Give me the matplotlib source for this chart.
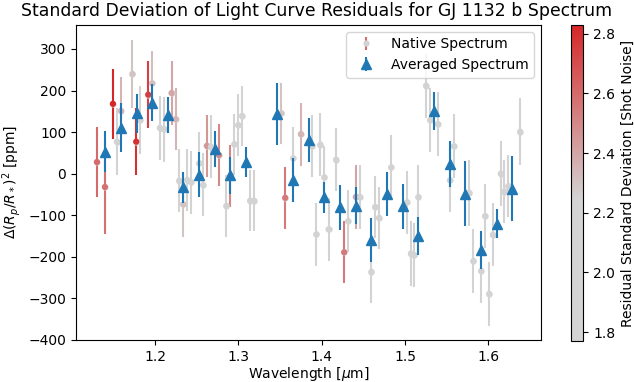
import numpy as np
import matplotlib
matplotlib.use("Agg")
import matplotlib.pyplot as plt
from matplotlib.colors import LinearSegmentedColormap, Normalize

# native-resolution spectrum (wavelength in um, depth change in ppm)
native_wl = [1.1300, 1.1396, 1.1492, 1.1540, 1.1588, 1.1727, 1.1772, 1.1820,
             1.1916, 1.1964, 1.2056, 1.2104, 1.2196, 1.2244, 1.2288, 1.2336,
             1.2384, 1.2432, 1.2528, 1.2576, 1.2620, 1.2669, 1.2765, 1.2856,
             1.2904, 1.2952, 1.2996, 1.3044, 1.3140, 1.3188, 1.3516, 1.3561,
             1.3657, 1.3749, 1.3888, 1.3936, 1.3984, 1.4032, 1.4081, 1.4173,
             1.4269, 1.4317, 1.4409, 1.4457, 1.4597, 1.4641, 1.4689, 1.4833,
             1.5022, 1.5070, 1.5113, 1.5161, 1.5253, 1.5301, 1.5394, 1.5538,
             1.5586, 1.5773, 1.5821, 1.5914, 1.5962, 1.6010, 1.6054, 1.6150,
             1.6193, 1.6241, 1.6382]
native_depth = [28, -32, 168, 77, 151, 240, 77, 129,
                190, 217, 110, 107, 194, 131, -17, -74,
                -15, -21, 25, -27, 67, 65, 45, -77,
                -5, 71, 117, 139, -65, -65, 145, -58,
                37, 95, 67, -146, 70, -9, -134, 34,
                -189, -114, -56, -56, -236, -80, -106, 15,
                -69, -192, -196, -56, 212, 129, 119, -16,
                66, -46, -210, -234, -102, -289, -147, 0,
                -43, -30, 101]
native_err = [84, 112, 84, 81, 82, 81, 81, 81,
              80, 79, 78, 78, 78, 75, 76, 78,
              75, 75, 75, 76, 75, 75, 75, 75,
              74, 73, 74, 73, 73, 73, 74, 74,
              75, 76, 75, 76, 76, 75, 75, 76,
              75, 75, 77, 77, 74, 75, 75, 77,
              76, 78, 77, 77, 77, 77, 77, 77,
              77, 79, 76, 77, 76, 77, 76, 78,
              75, 75, 80]
native_std = [2.60, 2.58, 2.83, 1.90, 2.35, 2.30, 2.80, 1.95,
              2.75, 2.32, 1.90, 1.88, 2.40, 2.35, 1.85, 2.30,
              1.85, 1.86, 1.88, 1.87, 2.45, 1.90, 2.50, 1.86,
              2.50, 1.88, 2.05, 2.15, 1.85, 1.86, 2.30, 2.55,
              1.88, 2.35, 1.90, 1.85, 1.90, 1.88, 1.86, 1.90,
              2.55, 1.88, 2.40, 1.90, 1.85, 1.86, 1.88, 1.90,
              1.87, 1.85, 1.86, 1.88, 1.90, 1.88, 1.87, 1.86,
              1.85, 1.87, 1.86, 1.85, 1.88, 1.77, 1.86, 1.88,
              1.87, 1.86, 1.90]

# binned spectrum
avg_wl = [1.1396, 1.1588, 1.1776, 1.1964, 1.2152, 1.2336, 1.2528, 1.2717,
          1.2904, 1.3092, 1.3468, 1.3657, 1.3845, 1.4032, 1.4221, 1.4409,
          1.4597, 1.4785, 1.4973, 1.5161, 1.5349, 1.5538, 1.5725, 1.5914,
          1.6102, 1.6289]
avg_depth = [53, 111, 145, 171, 141, -33, -2, 59,
             -4, 28, 143, -15, 81, -57, -81, -77,
             -160, -49, -78, -150, 151, 23, -48, -184,
             -120, -36]
avg_err = [50, 58, 46, 45, 44, 38, 54, 43,
           44, 36, 75, 53, 54, 38, 54, 45,
           53, 54, 54, 45, 45, 55, 79, 45,
           35, 79]

cmap = LinearSegmentedColormap.from_list(
    "greyred", [(0.0, "lightgrey"), (0.45, "lightgrey"), (1.0, "tab:red")])
norm = Normalize(vmin=min(native_std), vmax=max(native_std))
ecolors = cmap(norm(np.array(native_std)))

fig = plt.figure(figsize=(6.34, 3.82), dpi=100)
ax = fig.add_axes([0.12, 0.11, 0.733, 0.825])
cax = fig.add_axes([0.9, 0.107, 0.02, 0.828])

ax.errorbar(native_wl, native_depth, yerr=native_err, fmt="o", ms=3.5,
            color="lightgrey", ecolor=ecolors, elinewidth=1.5,
            label="Native Spectrum", zorder=2)
sc = ax.scatter(native_wl, native_depth, c=native_std, cmap=cmap, norm=norm,
                s=12, zorder=3)
ax.errorbar(avg_wl, avg_depth, yerr=avg_err, fmt="^", ms=7, color="tab:blue",
            elinewidth=1.5, label="Averaged Spectrum", zorder=4)

ax.set_xlim(1.105, 1.663)
ax.set_ylim(-400, 358)
ax.set_xlabel(r"Wavelength [$\mu$m]", labelpad=1)
ax.set_ylabel(r"$\Delta(R_p/R_*)^2$ [ppm]")
fig.suptitle("Standard Deviation of Light Curve Residuals for GJ 1132 b Spectrum",
             fontsize=12.4, y=0.995)
ax.legend(loc="upper right", fontsize=10)

cb = fig.colorbar(sc, cax=cax)
cb.set_label("Residual Standard Deviation [Shot Noise]")

fig.savefig("out.png", dpi=100)
